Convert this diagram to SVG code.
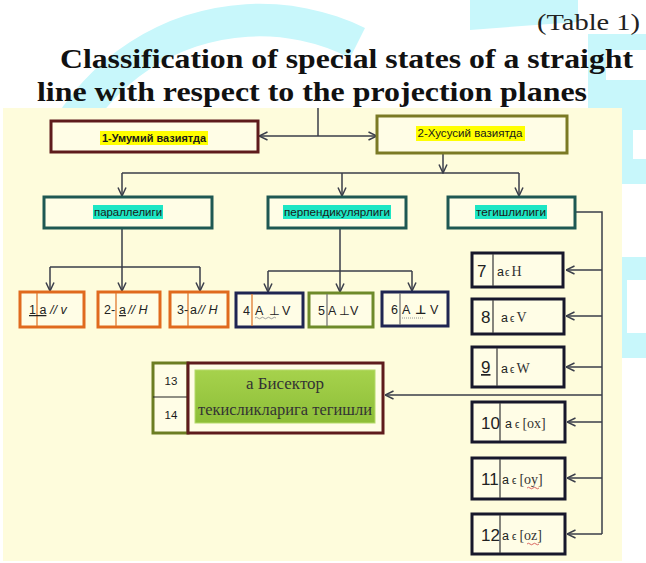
<svg xmlns="http://www.w3.org/2000/svg" width="646" height="563" viewBox="0 0 646 563">
<style>
.wm{fill:#C8F7FB}
.title{font-family:"Liberation Serif","DejaVu Serif",serif;font-weight:bold;font-size:28px;fill:#111}
.sub{font-family:"Liberation Serif","DejaVu Serif",serif;font-size:23px;fill:#222}
.box{fill:#FFFDE6;stroke-width:3}
.maroon{stroke:#5E1B1C}
.olive{stroke:#7B7A24}
.teal{stroke:#1E5853}
.orange{stroke:#E06A1E}
.navy{stroke:#1F2552}
.green{stroke:#6E8A2A}
.dark{stroke:#17172B}
.olive2{stroke:#6C7D22}
.lbl{font-family:"Liberation Sans","DejaVu Sans",sans-serif;font-size:11.5px;fill:#1a1a1a;text-anchor:middle}
.t3{font-family:"Liberation Sans","DejaVu Sans",sans-serif;font-size:12.5px;fill:#222}
.num{font-family:"Liberation Sans","DejaVu Sans",sans-serif;font-size:17px;fill:#222}
.ser{font-family:"Liberation Serif","DejaVu Serif",serif;fill:#333}
.div{stroke-width:1.3}
.conn{fill:none;stroke:#3A3E4A;stroke-width:1.5}
.arr{marker-end:url(#ah)}
</style>
<defs>
<marker id="ah" viewBox="0 0 10 10" refX="9.5" refY="5" markerWidth="10" markerHeight="10" markerUnits="userSpaceOnUse" orient="auto">
<path d="M1,1 L9.5,5 L1,9" fill="none" stroke="#3A3E4A" stroke-width="1.5"/>
</marker>
<linearGradient id="gg" x1="0" y1="0" x2="0" y2="1">
<stop offset="0" stop-color="#A6D24C"/>
<stop offset="1" stop-color="#8DBE38"/>
</linearGradient>
<clipPath id="wmclip">
<rect x="0" y="0" width="646" height="108"/>
<rect x="622" y="0" width="24" height="563"/>
</clipPath>
</defs>
<rect width="646" height="563" fill="#FFFFFF"/>
<g id="watermark" clip-path="url(#wmclip)">
<path class="wm" d="M20 250 A240 240 0 0 1 365 28 L350 58 A200 200 0 0 0 60 250 Z"/>
<path class="wm" d="M470 0 H578 V22 Q520 26 470 30 Z"/>
<rect class="wm" x="588" y="34" width="58" height="100"/>
<rect x="606" y="50" width="40" height="30" fill="#FFFFFF"/>
<rect class="wm" x="603" y="100" width="43" height="84"/>
<rect x="633" y="130" width="13" height="29" fill="#FFFFFF"/>
<rect class="wm" x="615" y="257" width="31" height="101"/>
<rect x="627" y="280" width="19" height="53" fill="#FFFFFF"/>
</g>
<g id="title">
<text class="sub" x="640" y="30" text-anchor="end" textLength="103" lengthAdjust="spacingAndGlyphs">(Table 1)</text>
<text class="title" x="60" y="68" textLength="573" lengthAdjust="spacingAndGlyphs">Classification of special states of a straight</text>
<text class="title" x="37" y="101" textLength="550" lengthAdjust="spacingAndGlyphs">line with respect to the projection planes</text>
</g>
<rect id="panel" x="3" y="108" width="619" height="453" fill="#FEFCDC"/>
<g id="connectors">
<path class="conn" d="M318 108 V136"/>
<path class="conn arr" d="M318 136 H259"/>
<path class="conn arr" d="M318 136 H377"/>
<path class="conn arr" d="M443 154 V173"/>
<path class="conn" d="M122 173 H519"/>
<path class="conn arr" d="M122 173 V196"/>
<path class="conn arr" d="M342 173 V196"/>
<path class="conn arr" d="M519 173 V196"/>
<path class="conn" d="M122 229 V267 M50 267 H200"/>
<path class="conn arr" d="M50 267 V291"/>
<path class="conn arr" d="M122 267 V291"/>
<path class="conn arr" d="M200 267 V291"/>
<path class="conn" d="M268 271 H412"/>
<path class="conn arr" d="M340 229 V292"/>
<path class="conn arr" d="M268 271 V292"/>
<path class="conn arr" d="M412 271 V291"/>
<path class="conn" d="M576 212 H602 V534"/>
<path class="conn arr" d="M602 270 H566"/>
<path class="conn arr" d="M602 316 H566"/>
<path class="conn arr" d="M602 367 H566"/>
<path class="conn arr" d="M602 422 H567"/>
<path class="conn arr" d="M602 478 H567"/>
<path class="conn arr" d="M602 534 H567"/>
<path class="conn arr" d="M602 395 H385"/>
</g>
<g id="n1">
<rect class="box maroon" x="51" y="121" width="207" height="31"/>
<rect x="100" y="131" width="108" height="14" fill="#FFFF00"/>
<text class="lbl" x="154" y="142" font-weight="bold" textLength="104" lengthAdjust="spacingAndGlyphs">1-Умумий вазиятда</text>
</g>
<g id="n2">
<rect class="box olive" x="377" y="116" width="190" height="37"/>
<rect x="416" y="126" width="109" height="15" fill="#FFFF00"/>
<text class="lbl" x="470" y="137" textLength="105" lengthAdjust="spacingAndGlyphs">2-Хусусий вазиятда</text>
</g>
<g id="n-par">
<rect class="box teal" x="44" y="197" width="168" height="31"/>
<rect x="93" y="205" width="70" height="14" fill="#1DE6C4"/>
<text class="lbl" x="128" y="216" textLength="68" lengthAdjust="spacingAndGlyphs">параллелиги</text>
</g>
<g id="n-perp">
<rect class="box teal" x="268" y="197" width="138" height="31"/>
<rect x="283" y="205" width="108" height="14" fill="#1DE6C4"/>
<text class="lbl" x="337" y="216" textLength="106" lengthAdjust="spacingAndGlyphs">перпендикулярлиги</text>
</g>
<g id="n-teg">
<rect class="box teal" x="448" y="197" width="127" height="31"/>
<rect x="475" y="205" width="72" height="14" fill="#1DE6C4"/>
<text class="lbl" x="511" y="216" textLength="70" lengthAdjust="spacingAndGlyphs">тегишлилиги</text>
</g>
<g id="n-1">
<rect class="box orange" x="20" y="292" width="64" height="35"/>
<line class="div" x1="37" y1="293" x2="37" y2="326" stroke="#E07A30"/>
<text class="t3" x="29" y="314"><tspan text-decoration="underline">1 a</tspan><tspan font-style="italic" x="50">// v</tspan></text>
</g>
<g id="n-2">
<rect class="box orange" x="98" y="292" width="62" height="35"/>
<line class="div" x1="116" y1="293" x2="116" y2="326" stroke="#E07A30"/>
<text class="t3" x="104" y="314">2-<tspan x="119" text-decoration="underline">a</tspan><tspan font-style="italic" x="128">// H</tspan></text>
</g>
<g id="n-3">
<rect class="box orange" x="170" y="292" width="58" height="35"/>
<line class="div" x1="188" y1="293" x2="188" y2="326" stroke="#E07A30"/>
<text class="t3" x="177" y="314">3-<tspan x="190">a</tspan><tspan font-style="italic" x="198">// H</tspan></text>
</g>
<g id="n-4">
<rect class="box navy" x="236" y="293" width="67" height="34"/>
<line class="div" x1="252" y1="294" x2="252" y2="326" stroke="#E07A30"/>
<text class="t3" x="243" y="315" font-size="13">4<tspan x="255">A</tspan><tspan x="269">⊥</tspan><tspan x="282">V</tspan></text>
<path d="M255 318 q1.5 -1.5 3 0 t3 0 t3 0 t3 0 t3 0 t3 0 t3 0" fill="none" stroke="#888" stroke-width="0.8"/>
</g>
<g id="n-5">
<rect class="box green" x="309" y="293" width="64" height="34"/>
<line class="div" x1="327" y1="294" x2="327" y2="326" stroke="#777"/>
<text class="t3" x="318" y="315" font-size="13">5<tspan x="328">A</tspan><tspan x="339">⊥</tspan><tspan x="350">V</tspan></text>
</g>
<g id="n-6">
<rect class="box navy" x="382" y="292" width="66" height="34"/>
<line class="div" x1="400" y1="293" x2="400" y2="325" stroke="#777"/>
<text class="t3" x="391" y="314" font-size="13">6<tspan x="402">A</tspan><tspan x="415" font-weight="bold">⊥</tspan><tspan x="430">V</tspan></text>
<line x1="402" y1="318" x2="423" y2="318" stroke="#888" stroke-width="0.9" stroke-dasharray="1 1"/>
</g>
<g id="n-7">
<rect class="box dark" x="472" y="253" width="91" height="34"/>
<line class="div" x1="493" y1="254" x2="493" y2="286" stroke="#444"/>
<text class="num" x="477" y="277">7</text>
<text class="t3" x="497" y="276" font-size="14">a<tspan font-size="10" dx="1">ϵ</tspan><tspan class="ser" font-size="14" dx="2">H</tspan></text>
</g>
<g id="n-8">
<rect class="box dark" x="472" y="299" width="92" height="35"/>
<line class="div" x1="493" y1="300" x2="493" y2="333" stroke="#444"/>
<text class="num" x="481" y="323">8</text>
<text class="t3" x="501" y="322" font-size="14">a<tspan font-size="10" dx="2">ϵ</tspan><tspan class="ser" font-size="14" dx="2">V</tspan></text>
</g>
<g id="n-9">
<rect class="box dark" x="472" y="347" width="92" height="40"/>
<line class="div" x1="497" y1="348" x2="497" y2="386" stroke="#444"/>
<text class="num" x="481" y="373" text-decoration="underline">9</text>
<text class="t3" x="501" y="373" font-size="14">a<tspan font-size="10" dx="2">ϵ</tspan><tspan class="ser" font-size="14" dx="2">W</tspan></text>
</g>
<g id="n-10">
<rect class="box dark" x="472" y="402" width="93" height="40"/>
<line class="div" x1="500" y1="403" x2="500" y2="441" stroke="#444"/>
<text class="num" x="481" y="429">10</text>
<text class="t3" x="505" y="428" font-size="15">a<tspan font-size="10" dx="3">ϵ</tspan><tspan class="ser" font-size="14" dx="3">[ox]</tspan></text>
</g>
<g id="n-11">
<rect class="box dark" x="472" y="458" width="93" height="41"/>
<line class="div" x1="500" y1="459" x2="500" y2="498" stroke="#444"/>
<text class="num" x="481" y="485">11</text>
<text class="t3" x="502" y="484" font-size="15">a<tspan font-size="10" dx="3">ϵ</tspan><tspan class="ser" font-size="14" dx="3">[oy]</tspan></text>
<path d="M527 488 q1.5 -1.5 3 0 t3 0 t3 0 t3 0" fill="none" stroke="#D04040" stroke-width="0.8"/>
</g>
<g id="n-12">
<rect class="box dark" x="472" y="514" width="93" height="40"/>
<line class="div" x1="500" y1="515" x2="500" y2="553" stroke="#444"/>
<text class="num" x="481" y="541">12</text>
<text class="t3" x="502" y="540" font-size="15">a<tspan font-size="10" dx="3">ϵ</tspan><tspan class="ser" font-size="14" dx="3">[oz]</tspan></text>
<path d="M527 544 q1.5 -1.5 3 0 t3 0 t3 0 t3 0" fill="none" stroke="#D04040" stroke-width="0.8"/>
</g>
<g id="n-13-14">
<rect class="box olive2" x="153" y="363" width="35" height="70"/>
<line x1="153" y1="397" x2="188" y2="397" stroke="#222" stroke-width="1.2"/>
<text class="lbl" x="171" y="385" font-size="11">13</text>
<text class="lbl" x="171" y="419" font-size="11">14</text>
<rect class="box maroon" x="188" y="363" width="195" height="70"/>
<rect x="195" y="370" width="180" height="53" fill="url(#gg)" stroke="#B5DA6A" stroke-width="1"/>
<text class="ser" x="285" y="389" font-size="17" fill="#1a1a1a" text-anchor="middle">a  Бисектор</text>
<text class="ser" x="285" y="415" font-size="17" fill="#1a1a1a" text-anchor="middle" textLength="174" lengthAdjust="spacingAndGlyphs">текисликларига тегишли</text>
</g>
</svg>
